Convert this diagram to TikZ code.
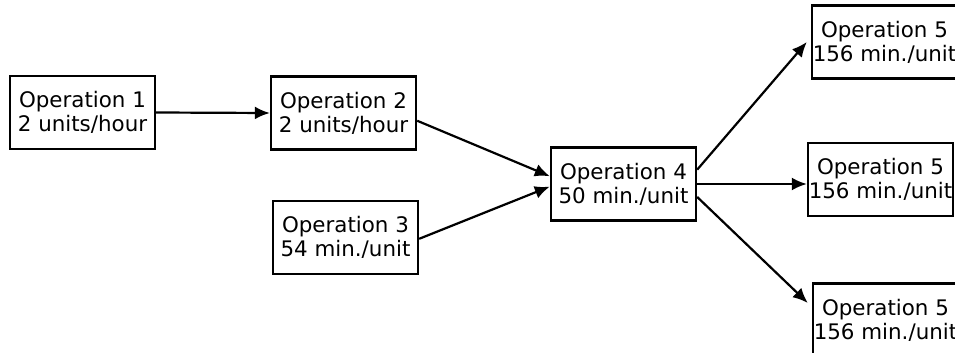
\documentclass[tikz,border=0pt]{standalone}
\usepackage{fontspec}
\setmainfont{DejaVu Sans}
\usetikzlibrary{arrows.meta}

\begin{document}
\begin{tikzpicture}[x=0.5pt,y=-0.5pt,
  opbox/.style={draw,line width=1.2pt,minimum width=72.5pt,minimum height=36.5pt,inner xsep=0pt,align=center,font=\fontsize{10.7}{12}\selectfont},
  flow/.style={-{Latex[length=7.5pt,width=6.5pt]},line width=1.1pt}]
\clip (0,0) rectangle (955,353);
\node[opbox] (op1) at (82.5,112.5) {Operation 1\\2 units/hour};
\node[opbox] (op2) at (343.5,113) {Operation 2\\2 units/hour};
\node[opbox] (op3) at (345.5,237.5) {Operation 3\\54 min./unit};
\node[opbox] (op4) at (623.5,184) {Operation 4\\50 min./unit};
\node[opbox] (op5a) at (884.5,42) {Operation 5\\156 min./unit};
\node[opbox] (op5b) at (880.5,179.5) {Operation 5\\156 min./unit};
\node[opbox] (op5c) at (885.5,320) {Operation 5\\156 min./unit};
\draw[flow] (op1.east)--(op2.west);
\draw[flow] (op2.-6)--(op4.174);
\draw[flow] (op3.-1)--(op4.182);
\draw[flow] (op4.11)--([xshift=-2pt]op5a.west);
\draw[flow] (op4.east)--(op4.east -| op5b.west);
\draw[flow] (op4.-10)--([xshift=-2pt]op5c.167);
\end{tikzpicture}
\end{document}
